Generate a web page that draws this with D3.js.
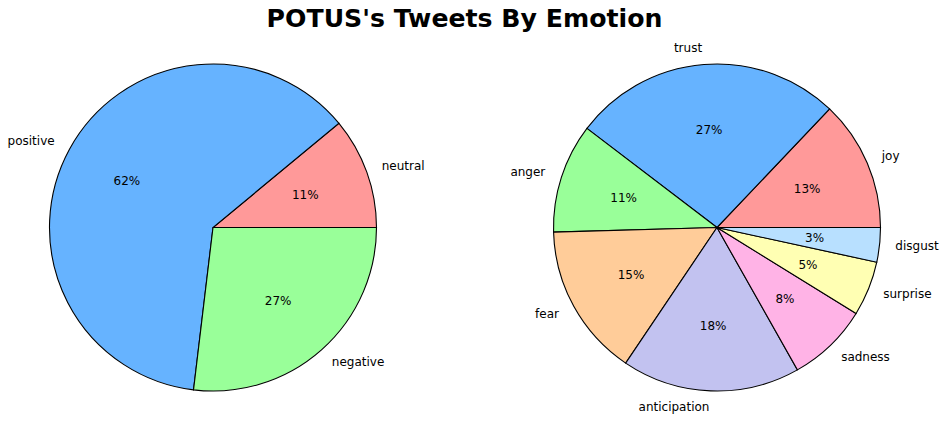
<!DOCTYPE html>
<html><head><meta charset="utf-8">
<script src="https://cdn.jsdelivr.net/npm/d3@7"></script>
<style>html,body{margin:0;padding:0;background:#fff}svg{display:block}text{font-family:"DejaVu Sans",sans-serif;fill:#000}</style>
</head><body><svg id="c" width="946" height="429"></svg>
<script>
const title="POTUS's Tweets By Emotion";
const sentimentLabels=["neutral","positive","negative"];
const sentimentValues=[11,62.1,26.9];
const sentimentColors=["#ff9999","#66b3ff","#99ff99"];
const emotionLabels=["joy","trust","anger","fear","anticipation","sadness","surprise","disgust"];
const emotionValues=[12.9,26.7,10.8,15.1,17.6,8,5.4,3.4];
const emotionColors=["#ff9999","#66b3ff","#99ff99","#ffcc99","#c2c2f0","#ffb3e6","#ffffb3","#b8e0ff"];
const pctLabelsA=["11%","62%","27%"];
const pctLabelsB=["13%","27%","11%","15%","18%","8%","5%","3%"];
const svg=d3.select("#c");
svg.append("text").attr("x",464.5).attr("y",27).attr("text-anchor","middle").attr("font-size",25.2).attr("font-weight","bold").text(title);
function pie(cx,cy,r,labels,values,colors,pcts){
  const g=svg.append("g").attr("transform",`translate(${cx},${cy})`);
  const arcs=d3.pie().sort(null).startAngle(Math.PI/2).endAngle(Math.PI/2-2*Math.PI)(values);
  const arc=d3.arc().innerRadius(0).outerRadius(r);
  g.selectAll("path").data(arcs).join("path").attr("d",arc)
    .attr("fill",(d,i)=>colors[i]).attr("stroke","#000").attr("stroke-width",1.1);
  const at=(d,k)=>{const a=(d.startAngle+d.endAngle)/2;return [Math.sin(a)*r*k,-Math.cos(a)*r*k];};
  g.selectAll("text.p").data(arcs).join("text").attr("class","p").attr("text-anchor","middle").attr("dominant-baseline","central")
    .attr("font-size",12).attr("x",d=>at(d,.6)[0]).attr("y",d=>at(d,.6)[1]+.5).text((d,i)=>pcts[i]);
  g.selectAll("text.l").data(arcs).join("text").attr("class","l").attr("dominant-baseline","central").attr("font-size",12)
    .attr("text-anchor",d=>{const x=at(d,1)[0];return Math.abs(x)<3?"middle":x>0?"start":"end";})
    .attr("x",d=>at(d,1.1)[0]-.5).attr("y",d=>at(d,1.1)[1]-.5).text((d,i)=>labels[i]);
}
pie(213,227.5,163.5,sentimentLabels,sentimentValues,sentimentColors,pctLabelsA);
pie(717,227.5,163.5,emotionLabels,emotionValues,emotionColors,pctLabelsB);
</script></body></html>
